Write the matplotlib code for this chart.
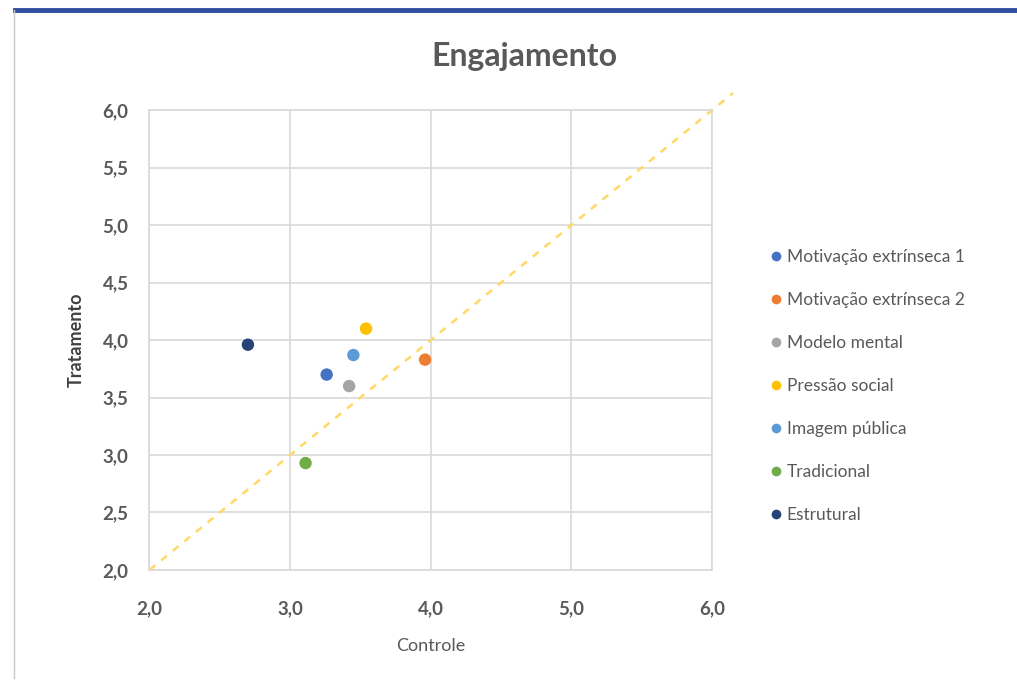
import matplotlib
matplotlib.use("Agg")
import matplotlib.pyplot as plt
from matplotlib.lines import Line2D

plt.rcParams['font.family'] = ['Lato', 'DejaVu Sans']

series_names = ["Motivação extrínseca 1", "Motivação extrínseca 2", "Modelo mental",
                "Pressão social", "Imagem pública", "Tradicional", "Estrutural"]
controle = [3.26, 3.96, 3.42, 3.54, 3.45, 3.11, 2.70]
tratamento = [3.70, 3.83, 3.60, 4.10, 3.87, 2.93, 3.96]
colors = ["#4472C4", "#ED7D31", "#A5A5A5", "#FFC000", "#5B9BD5", "#70AD47", "#264478"]
ref_line = [2.0, 6.15]
ticks_x = [2.0, 3.0, 4.0, 5.0, 6.0]
ticks_y = [2.0, 2.5, 3.0, 3.5, 4.0, 4.5, 5.0, 5.5, 6.0]

fig = plt.figure(figsize=(10.17, 6.85), dpi=100)
fig.patch.set_facecolor("white")
ax = fig.add_axes([0.147, 0.168, 0.553, 0.671])

ax.plot(ref_line, ref_line, linestyle=(0, (3, 3)), color="#FFD966", lw=1.8,
        clip_on=False, zorder=2)
for name, cx, ty, c in zip(series_names, controle, tratamento, colors):
    ax.scatter([cx], [ty], s=80, color=c, zorder=3, label=name, edgecolors="none")

ax.set_xlim(2, 6)
ax.set_ylim(2, 6)
ax.set_xticks(ticks_x)
ax.set_yticks(ticks_y)
ax.set_xticklabels([f"{t:.1f}".replace(".", ",") for t in ticks_x])
ax.set_yticklabels([f"{t:.1f}".replace(".", ",") for t in ticks_y])
ax.grid(True, color="#D9D9D9", lw=1.2, zorder=0)
ax.set_axisbelow(True)
for sp in ax.spines.values():
    sp.set_color("#D9D9D9")
    sp.set_linewidth(1.2)
ax.tick_params(length=0, labelsize=13.5, labelcolor="#595959")
ax.tick_params(axis="x", pad=22)
ax.tick_params(axis="y", pad=15)
for lbl in ax.get_xticklabels() + ax.get_yticklabels():
    lbl.set_fontweight("bold")

ax.set_xlabel("Controle", fontsize=13, color="#595959", labelpad=15)
ax.set_ylabel("Tratamento", fontsize=13, color="#404040", fontweight="bold", labelpad=13)
fig.text(0.516, 0.917, "Engajamento", ha="center", va="center", fontsize=23,
         fontweight="bold", color="#595959")

handles = [Line2D([0], [0], marker="o", linestyle="none", markersize=7,
                  markerfacecolor=c, markeredgecolor="none") for c in colors]
leg = fig.legend(handles, series_names, loc="upper left", bbox_to_anchor=(0.748, 0.647),
                 frameon=False, fontsize=12.5, labelspacing=1.56, handletextpad=0.1,
                 handlelength=1.0, borderaxespad=0)
for t in leg.get_texts():
    t.set_color("#595959")

# frame edges of the screenshot
fig.add_artist(Line2D([0.015, 1.0], [0.985, 0.985], color="#2F4E9E", lw=3.5,
                      transform=fig.transFigure))
fig.add_artist(Line2D([0.014, 0.014], [0.01, 0.985], color="#C8C8D0", lw=1.0,
                      transform=fig.transFigure))

fig.savefig("out.png", dpi=100)
